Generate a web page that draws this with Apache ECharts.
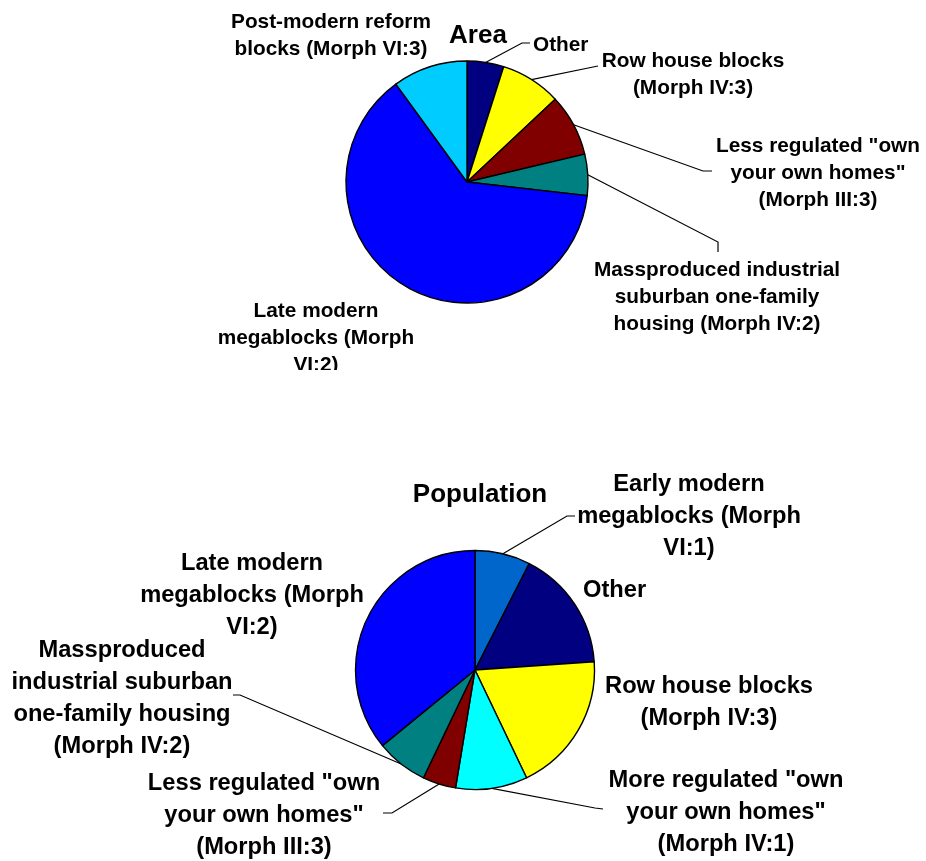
<!DOCTYPE html>
<html lang="en">
<head>
    <meta charset="UTF-8">
    <title>Area and population by morphology</title>
    <script src="https://cdn.jsdelivr.net/npm/echarts@6/dist/echarts.min.js"></script>
    <style>html, body { margin: 0; padding: 0; background: #fff; }</style>
</head>
<body>
    <div id="main" style="width: 926px; height: 861px"></div>
    <script>
        var mychart = echarts.init(document.getElementById("main"))

        // area shares (%), clockwise from 12 o'clock
        var areaNames = [
            'Other',
            'Row house blocks\n(Morph IV:3)',
            'Less regulated "own\nyour own homes"\n(Morph III:3)',
            'Massproduced industrial\nsuburban one-family\nhousing (Morph IV:2)',
            'Late modern\nmegablocks (Morph\nVI:2)',
            'Post-modern reform\nblocks (Morph VI:3)'
        ];
        var areaValues = [4.9, 8.1, 8.3, 5.5, 63.2, 10.0];
        var areaColors = ['#000080', '#ffff00', '#800000', '#008080', '#0000ff', '#00ccff'];

        // population shares (%), clockwise from 12 o'clock
        var popNames = [
            'Early modern\nmegablocks (Morph\nVI:1)',
            'Other',
            'Row house blocks\n(Morph IV:3)',
            'More regulated "own\nyour own homes"\n(Morph IV:1)',
            'Less regulated "own\nyour own homes"\n(Morph III:3)',
            'Massproduced\nindustrial suburban\none-family housing\n(Morph IV:2)',
            'Late modern\nmegablocks (Morph\nVI:2)'
        ];
        var popValues = [7.5, 16.4, 19.0, 9.7, 4.5, 7.0, 35.9];
        var popColors = ['#0066cc', '#000080', '#ffff00', '#00ffff', '#800000', '#008080', '#0000ff'];

        // layout: label block (center x, middle y, align) and leader line bends (null = no leader)
        var areaLabelPos = [[533, 45, 'left'], [693, 75], [818, 173], [717, 297], [316, 338], [331, 36]];
        var areaLeaderPts = [[[522, 43], [530, 43]], [[598, 66]], [[703, 171], [712, 171]], [[718, 242], [718, 252]], null, null];
        var popLabelPos = [[689, 516], [583, 590, 'left'], [709, 702], [726, 812], [264, 815], [122, 698], [252, 595]];
        var popLeaderPts = [[[567, 516], [575, 516]], null, null, [[595, 808], [603, 809]], [[392, 813], [383, 813]], [[240, 695], [233, 695]], null];

        var font = '"Liberation Sans", Arial, sans-serif';

        function makeData(names, values, colors, leaders) {
            return names.map(function (n, i) {
                return {
                    name: n,
                    value: values[i],
                    itemStyle: { color: colors[i] },
                    labelLine: { show: !!leaders[i] }
                };
            });
        }

        // point on the rim at the middle of slice i
        function rimPoint(values, i, center, r) {
            var total = values.reduce(function (a, b) { return a + b; }, 0);
            var before = 0;
            for (var k = 0; k < i; k++) before += values[k];
            var a = (before + values[i] / 2) / total * 2 * Math.PI;
            return [center[0] + r * Math.sin(a), center[1] - r * Math.cos(a)];
        }

        function pie(center, radius, names, values, colors, pos, leaders, size, lh) {
            return {
                type: 'pie',
                center: center,
                radius: radius,
                startAngle: 90,
                clockwise: true,
                avoidLabelOverlap: false,
                silent: true,
                data: makeData(names, values, colors, leaders),
                itemStyle: { borderColor: '#000', borderWidth: 1.4 },
                label: {
                    show: true,
                    position: 'outside',
                    formatter: '{b}',
                    color: '#000',
                    fontFamily: font,
                    fontWeight: 'bold',
                    fontSize: size,
                    lineHeight: lh
                },
                labelLine: {
                    smooth: false,
                    lineStyle: { color: '#000', width: 1.2 }
                },
                labelLayout: function (p) {
                    var i = p.dataIndex;
                    var q = pos[i];
                    var out = { x: q[0], y: q[1], align: q[2] || 'center', verticalAlign: 'middle' };
                    if (leaders[i]) {
                        out.labelLinePoints = [rimPoint(values, i, center, radius)].concat(leaders[i]);
                    }
                    return out;
                }
            };
        }

        option = {
            backgroundColor: '#fff',
            animation: false,
            graphic: [
                {
                    type: 'text', x: 478, y: 36, z: 50,
                    style: { text: 'Area', align: 'center', verticalAlign: 'middle', font: 'bold 26px ' + font, fill: '#000' }
                },
                {
                    type: 'text', x: 480, y: 495, z: 50,
                    style: { text: 'Population', align: 'center', verticalAlign: 'middle', font: 'bold 26px ' + font, fill: '#000' }
                },
                // the original picture is cut just under the first chart
                {
                    type: 'rect', z: 100,
                    shape: { x: 180, y: 370, width: 280, height: 30 },
                    style: { fill: '#fff' }
                }
            ],
            series: [
                pie([467, 182], 121, areaNames, areaValues, areaColors, areaLabelPos, areaLeaderPts, 20.8, 27),
                pie([475, 670], 119.5, popNames, popValues, popColors, popLabelPos, popLeaderPts, 23.7, 32)
            ]
        }

        mychart.setOption(option)
    </script>
</body>
</html>
